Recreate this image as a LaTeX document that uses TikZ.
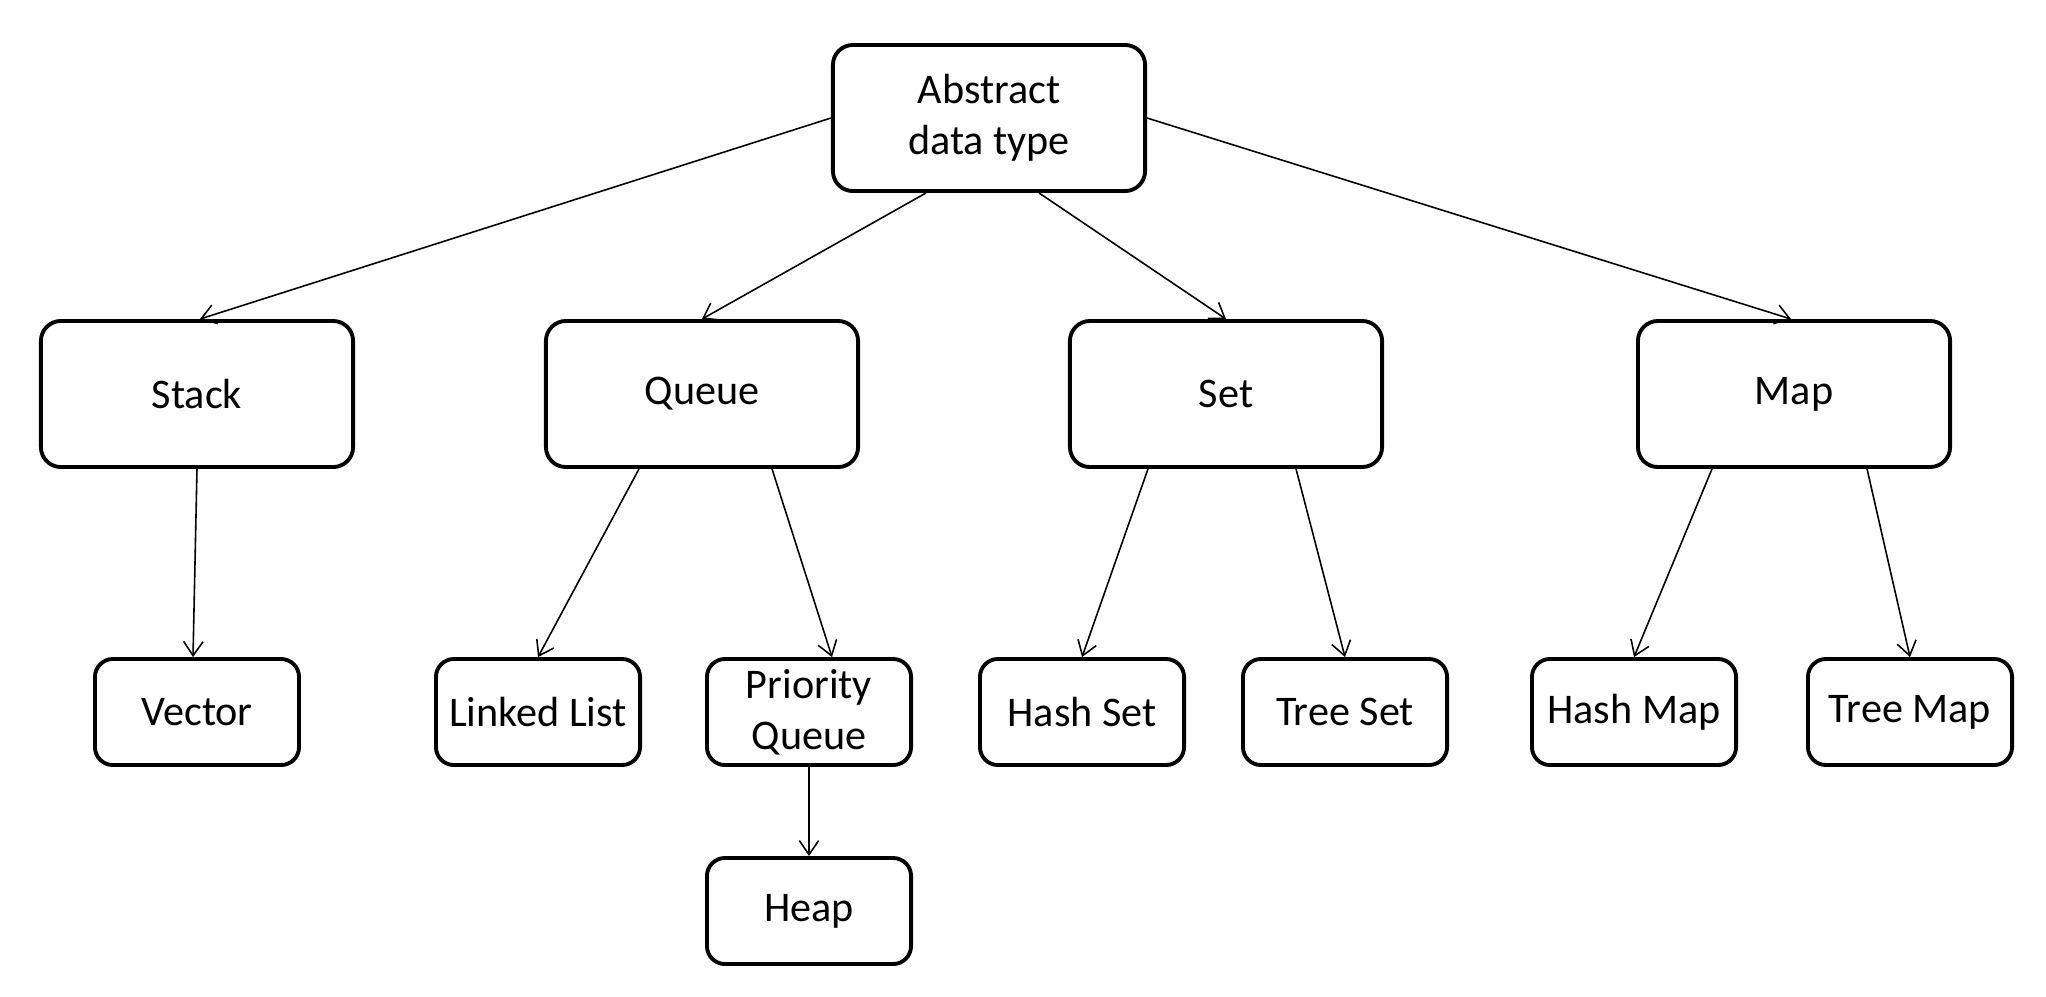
\documentclass[tikz,border=0pt]{standalone}
\usepackage{fontspec}
\setmainfont{Carlito}
\usetikzlibrary{arrows.meta,positioning,calc}
\definecolor{Ink}{HTML}{000000}

\begin{document}
\begin{tikzpicture}[x=0.01cm,y=-0.01cm,
  bigbox/.style={draw=Ink,line width=1.1pt,rounded corners=0.2cm,minimum width=3.12cm,minimum height=1.46cm,
    align=center,inner sep=0pt,font=\fontsize{12}{14.5}\selectfont},
  smallbox/.style={bigbox,minimum width=2.04cm,minimum height=1.06cm,rounded corners=0.18cm},
  link/.style={draw=Ink,line width=0.45pt,-{Straight Barb[length=4pt,width=5.5pt]}}]
\useasboundingbox (0,0) rectangle (2046,996);
% top
\node[bigbox] (adt) at (989,118) {Abstract\\data type};
% second row
\node[bigbox] (stack) at (197,394) {Stack};
\node[bigbox] (queue) at (702,394) {Queue};
\node[bigbox] (set)   at (1226,394) {Set};
\node[bigbox] (map)   at (1794,394) {Map};
% third row
\node[smallbox] (vector) at (197,712) {Vector};
\node[smallbox] (llist)  at (538,712) {Linked List};
\node[smallbox] (pqueue) at (809,712) {Priority\\Queue};
\node[smallbox] (hset)   at (1082,712) {Hash Set};
\node[smallbox] (tset)   at (1345,712) {Tree Set};
\node[smallbox] (hmap)   at (1634,712) {Hash Map};
\node[smallbox] (tmap)   at (1910,712) {Tree Map};
\node[smallbox] (heap)   at (809,911) {Heap};
% connectors
\draw[link] (adt.west) -- ([xshift=0.03cm]stack.north);
\draw[link] ([xshift=-0.63cm]adt.south) -- (queue.north);
\draw[link] ([xshift=0.5cm]adt.south) -- (set.north);
\draw[link] (adt.east) -- ([xshift=-0.03cm]map.north);
\draw[link] (stack.south) -- ([xshift=-0.04cm]vector.north);
\draw[link] ([xshift=-0.63cm]queue.south) -- (llist.north);
\draw[link] ([xshift=0.7cm]queue.south) -- ([xshift=0.23cm]pqueue.north);
\draw[link] ([xshift=-0.78cm]set.south) -- (hset.north);
\draw[link] ([xshift=0.7cm]set.south) -- (tset.north);
\draw[link] ([xshift=-0.82cm]map.south) -- (hmap.north);
\draw[link] ([xshift=0.73cm]map.south) -- (tmap.north);
\draw[link] (pqueue.south) -- (heap.north);
\end{tikzpicture}
\end{document}
